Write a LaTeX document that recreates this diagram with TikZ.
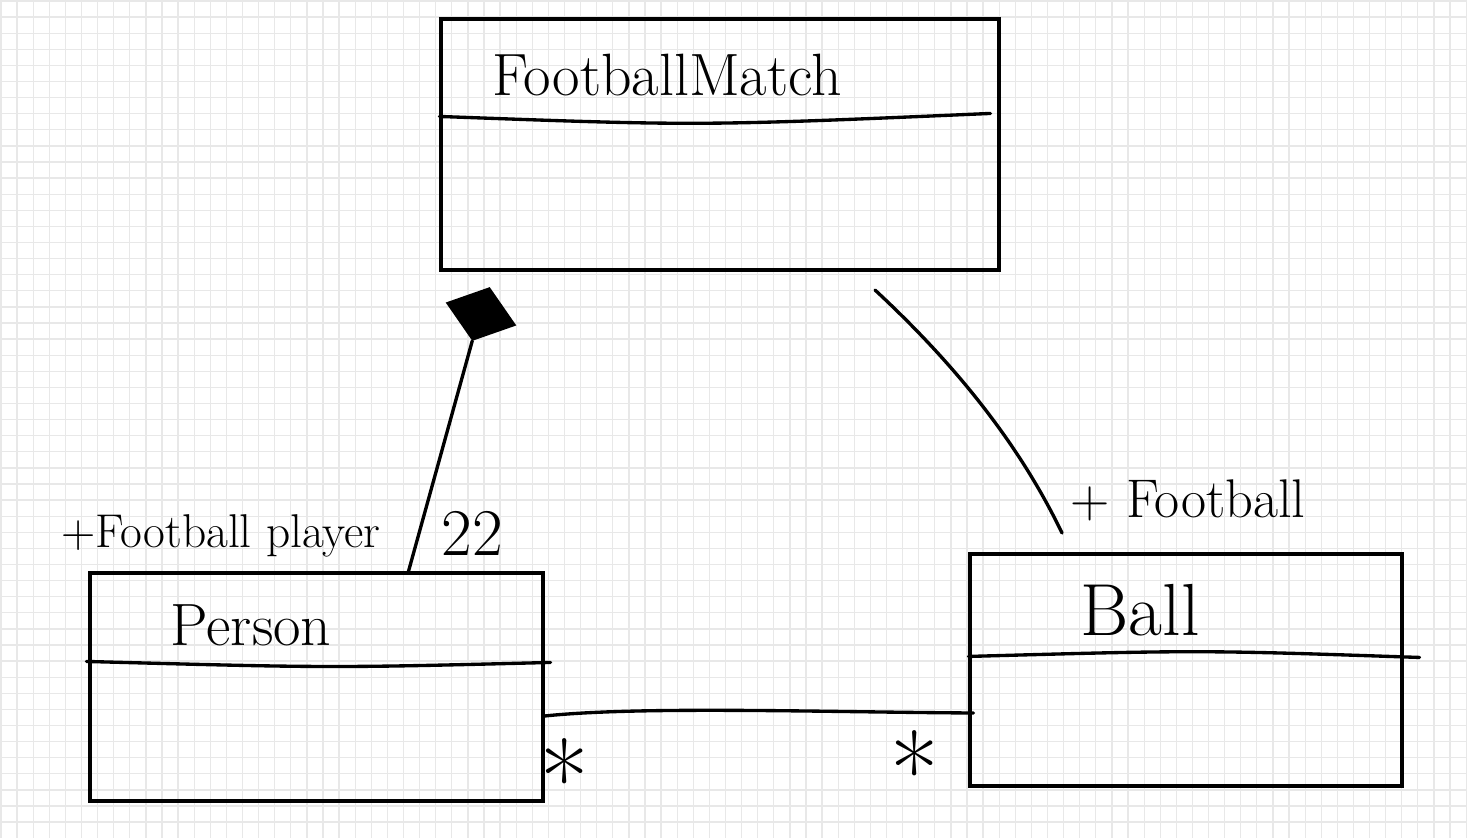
\documentclass[tikz,border=0pt]{standalone}
\usepackage{fontspec}
\usetikzlibrary{shapes.geometric, calc}

\begin{document}
\begin{tikzpicture}[x=0.02cm, y=-0.02cm,
  gridline/.style={draw=gray!18, line width=0.7pt},
  umlbox/.style={rectangle, draw, line width=1.8pt, inner sep=0pt},
  link/.style={line width=1.9pt, line cap=round, line join=round},
  classname/.style={font=\fontsize{34}{40}\selectfont},
  rolename/.style={font=\fontsize{27}{32}\selectfont},
  mult/.style={font=\fontsize{60}{66}\selectfont, inner sep=0pt}
]
\useasboundingbox (0,0) rectangle (1467,838);

% squared paper
\foreach \i in {0,...,91} \draw[gridline] (1+16.1*\i,0) -- ++(0,838);
\foreach \j in {0,...,52} \draw[gridline] (0,1+16.1*\j) -- ++(1467,0);

% classes
\node[umlbox, minimum width=11.16cm, minimum height=5.02cm] (match) at (720,144.5) {};
\node[umlbox, minimum width=9.06cm, minimum height=4.56cm] (person) at (316.5,687) {};
\node[umlbox, minimum width=8.64cm, minimum height=4.64cm] (ball) at (1186,670) {};

\node[classname] (matchname) at (667,75) {FootballMatch};
\node[classname] (personname) at (251,625) {Person};
\node[classname, font=\fontsize{42}{48}\selectfont] (ballname) at (1140,610) {Ball};

% compartment lines
\draw[link] ($(match.north west)+(0,99)$) .. controls (700,126) .. ($(match.north west)+(551,96)$);
\draw[link] ($(person.north west)+(-2,90)$) .. controls (330,668) .. ($(person.north east)+(6,91)$);
\draw[link] ($(ball.north west)+(0,104)$) .. controls (1200,650) .. ($(ball.north east)+(16,105)$);

% composition Person -> FootballMatch
\node[diamond, fill, draw, line width=1pt, minimum width=1.44cm, minimum height=1.1cm,
      inner sep=0pt, rotate=-18] (comp) at (481,314) {};
\draw[link] (comp.south) -- ($(person.north west)+(320,0)$);
\node[rolename] (playerrole) at (221,536) {+Football player};
\node[rolename, font=\fontsize{38}{44}\selectfont] (playermult) at (472,533) {22};

% association FootballMatch -- Ball
\coordinate (assocA) at (875,290);
\coordinate (assocB) at (1062,533);
\draw[link] (assocA) .. controls (945,355) and (1015,435) .. (assocB);
\node[rolename, font=\fontsize{31}{36}\selectfont] (ballrole) at (1188,500) {+ Football};

% association Person -- Ball
\draw[link] ($(person.east)+(0,29)$) .. controls (640,706) and (820,712) .. ($(ball.west)+(5,43)$);
\node[mult] (personmult) at (565,778) {*};
\node[mult] (ballmult) at (915,770) {*};
\end{tikzpicture}
\end{document}
